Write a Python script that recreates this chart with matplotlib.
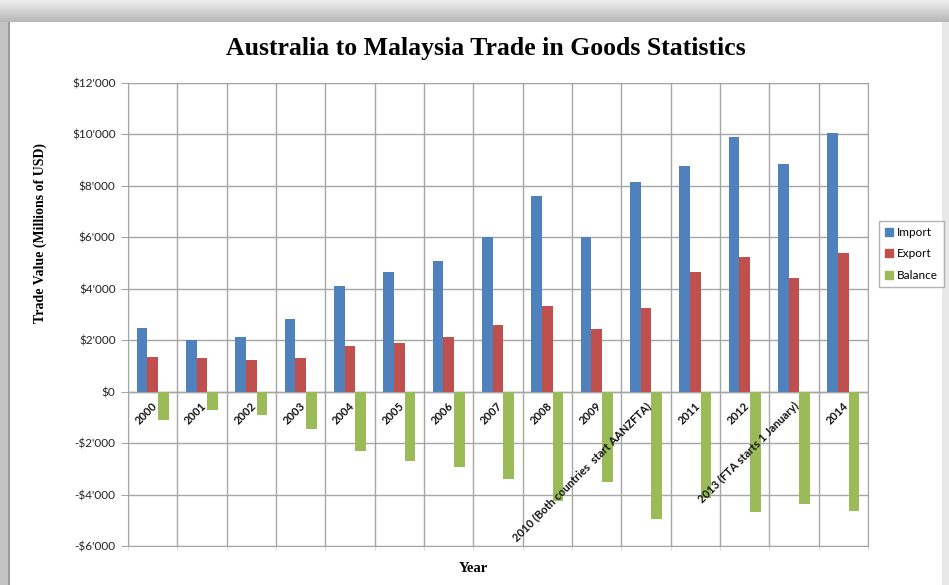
import matplotlib.pyplot as plt
import matplotlib.patches as mpatches
from matplotlib.ticker import FuncFormatter
import numpy as np

# data (millions of USD)
years = ['2000', '2001', '2002', '2003', '2004', '2005', '2006', '2007',
         '2008', '2009', '2010 (Both countries  start AANZFTA)', '2011',
         '2012', '2013 (FTA starts 1 January)', '2014']
imports = [2460, 2000, 2130, 2840, 4090, 4670, 5070, 6020,
           7590, 6000, 8160, 8770, 9900, 8840, 10040]
exports = [1360, 1320, 1230, 1320, 1770, 1880, 2130, 2600,
           3340, 2440, 3260, 4640, 5230, 4430, 5400]
balance = [-1100, -700, -900, -1470, -2310, -2710, -2940, -3390,
           -4240, -3520, -4940, -4140, -4660, -4380, -4620]

C_IMP = '#4F81BD'
C_EXP = '#C0504D'
C_BAL = '#9BBB59'
GRID = '#a6a6a6'
SANS = 'Lato'
SERIF = 'Liberation Serif'

fig = plt.figure(figsize=(9.49, 5.85), dpi=100)
fig.patch.set_facecolor('white')

# grey frame / shadow round the chart card
band = np.linspace(0.93, 0.72, 22).reshape(-1, 1, 1) * np.ones((1, 949, 3))
fig.figimage(band, xo=0, yo=585 - 22, origin='upper', zorder=0)
fig.patches.append(mpatches.Rectangle((0, 0), 8 / 949, 1, transform=fig.transFigure,
                                      facecolor='#c4c4c4', edgecolor='none', zorder=0))
fig.patches.append(mpatches.Rectangle((8 / 949, 0), 2 / 949, 1 - 22 / 585, transform=fig.transFigure,
                                      facecolor='#9a9a9a', edgecolor='none', zorder=0))
fig.patches.append(mpatches.Rectangle((942 / 949, 0), 7 / 949, 1, transform=fig.transFigure,
                                      facecolor='#e8e8e8', edgecolor='none', zorder=0))

ax = fig.add_axes([128 / 949, 1 - 546 / 585, 740 / 949, 463 / 585])

x = np.arange(len(years))
w = 0.215
ax.bar(x - w, imports, w, color=C_IMP, zorder=3, label='Import')
ax.bar(x, exports, w, color=C_EXP, zorder=3, label='Export')
ax.bar(x + w, balance, w, color=C_BAL, zorder=3, label='Balance')

ax.set_xlim(-0.5, len(years) - 0.5)
ax.set_ylim(-6000, 12000)
ax.set_yticks(np.arange(-6000, 12001, 2000))
ax.yaxis.set_major_formatter(FuncFormatter(
    lambda v, p: ('-' if v < 0 else '') + '$' + f'{abs(int(v)):,}'.replace(',', "'")))
ax.set_xticks(np.arange(-0.5, len(years), 1.0))
ax.set_xticklabels([])

ax.grid(True, color=GRID, linewidth=1, zorder=0)
ax.axhline(0, color=GRID, linewidth=1, zorder=1)
for spine in ax.spines.values():
    spine.set_edgecolor(GRID)
ax.tick_params(axis='y', direction='out', length=5, color=GRID, labelsize=8.5,
               labelcolor='#222222', pad=4)
ax.tick_params(axis='x', direction='out', length=3, color='#dddddd')
for lbl in ax.get_yticklabels():
    lbl.set_family(SANS)

# year labels sit just under the zero line, rotated like Excel
for xi, name in zip(x, years):
    ax.text(xi - 0.02, -330, name, rotation=45, rotation_mode='anchor',
            ha='right', va='top', fontsize=8, family=SANS, color='#111111',
            fontweight='bold', zorder=4)

fig.text(486 / 949, 1 - 49 / 585, 'Australia to Malaysia Trade in Goods Statistics',
         ha='center', va='center', fontsize=18.5, fontweight='bold', family=SERIF)
fig.text(40 / 949, 1 - 233 / 585, 'Trade Value (Millions of USD)', rotation=90,
         ha='center', va='center', fontsize=10, fontweight='bold', family=SERIF)
fig.text(473 / 949, 1 - 568 / 585, 'Year', ha='center', va='center',
         fontsize=10.5, fontweight='bold', family=SERIF)

handles = [mpatches.Patch(color=C_IMP, label='Import'),
           mpatches.Patch(color=C_EXP, label='Export'),
           mpatches.Patch(color=C_BAL, label='Balance')]
leg = fig.legend(handles=handles, loc='upper left', bbox_to_anchor=(873 / 949, 1 - 215 / 585),
                 frameon=True, fancybox=False, edgecolor='#a0a0a0', handlelength=0.7,
                 handleheight=0.7, handletextpad=0.3, labelspacing=0.9, borderpad=0.5,
                 prop={'family': SANS, 'size': 8.5})
leg.get_frame().set_linewidth(1)

fig.savefig('out.png', dpi=100, facecolor='white')
